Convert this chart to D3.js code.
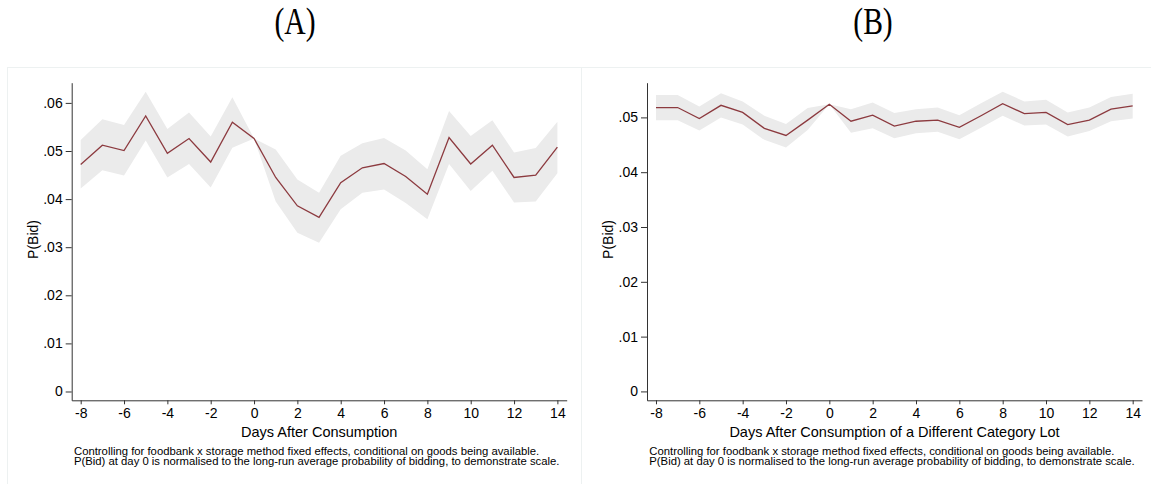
<!DOCTYPE html>
<html>
<head>
<meta charset="utf-8">
<script src="https://cdn.jsdelivr.net/npm/d3@7/dist/d3.min.js"></script>
<style>
  html, body { margin: 0; padding: 0; background: #fff; }
  svg { display: block; }
  .tick text { font-family: "Liberation Sans", Arial, sans-serif; fill: #000; }
</style>
</head>
<body>
<svg id="chart" width="1151" height="484"></svg>
<script>
// Event-study estimates of P(Bid) by day relative to consumption
const days = [-8, -7, -6, -5, -4, -3, -2, -1, 0, 1, 2, 3, 4, 5, 6, 7, 8, 9, 10, 11, 12, 13, 14];

// Panel A: same category
const estA = [0.0472, 0.0512, 0.0501, 0.0573, 0.0495, 0.0526, 0.0477, 0.0560, 0.0526, 0.0445, 0.0386, 0.0362, 0.0434, 0.0465, 0.0474, 0.0447, 0.0410, 0.0528, 0.0473, 0.0512, 0.0445, 0.0450, 0.0508];
const hiA  = [0.0523, 0.0566, 0.0554, 0.0623, 0.0546, 0.0580, 0.0530, 0.0612, 0.0526, 0.0503, 0.0441, 0.0413, 0.0490, 0.0516, 0.0527, 0.0501, 0.0462, 0.0583, 0.0531, 0.0564, 0.0497, 0.0506, 0.0561];
const loA  = [0.0422, 0.0460, 0.0449, 0.0522, 0.0445, 0.0473, 0.0424, 0.0507, 0.0526, 0.0395, 0.0330, 0.0309, 0.0379, 0.0413, 0.0420, 0.0392, 0.0358, 0.0473, 0.0417, 0.0459, 0.0393, 0.0395, 0.0454];

// Panel B: different category lot
const estB = [0.0518, 0.0518, 0.0498, 0.0522, 0.0509, 0.0480, 0.0467, 0.0495, 0.0524, 0.0493, 0.0504, 0.0484, 0.0493, 0.0495, 0.0482, 0.0503, 0.0525, 0.0507, 0.0509, 0.0487, 0.0495, 0.0515, 0.0521];
const hiB  = [0.0541, 0.0541, 0.0520, 0.0544, 0.0529, 0.0503, 0.0488, 0.0517, 0.0524, 0.0515, 0.0527, 0.0508, 0.0515, 0.0518, 0.0504, 0.0526, 0.0547, 0.0529, 0.0532, 0.0509, 0.0518, 0.0537, 0.0543];
const loB  = [0.0495, 0.0495, 0.0476, 0.0500, 0.0487, 0.0459, 0.0445, 0.0477, 0.0524, 0.0472, 0.0480, 0.0462, 0.0471, 0.0474, 0.0460, 0.0481, 0.0503, 0.0485, 0.0487, 0.0465, 0.0475, 0.0493, 0.0498];

const xTicks  = [-8, -6, -4, -2, 0, 2, 4, 6, 8, 10, 12, 14];
const yTicksA = [0, 0.01, 0.02, 0.03, 0.04, 0.05, 0.06];
const yTicksB = [0, 0.01, 0.02, 0.03, 0.04, 0.05];

const panelTitles = ["(A)", "(B)"];
const xTitles = ["Days After Consumption", "Days After Consumption of a Different Category Lot"];
const yTitle = "P(Bid)";
const notes = [
  "Controlling for foodbank x storage method fixed effects, conditional on goods being available.",
  "P(Bid) at day 0 is normalised to the long-run average probability of bidding, to demonstrate scale."
];

const svg = d3.select("#chart");
const sans = "'Liberation Sans', Arial, Helvetica, sans-serif";

// faint frame around the two graph regions
const frame = svg.append("g").attr("stroke", "#edf1f1").attr("stroke-width", 1).attr("fill", "none");
frame.append("line").attr("x1", 7).attr("x2", 1151).attr("y1", 67.5).attr("y2", 67.5);
frame.append("line").attr("x1", 7.5).attr("x2", 7.5).attr("y1", 67.5).attr("y2", 484);
frame.append("line").attr("x1", 581.5).attr("x2", 581.5).attr("y1", 67.5).attr("y2", 484);

const fmtY = d => d === 0 ? "0" : d3.format(".2f")(d).replace(/^0/, "");
const fmtX = d => String(d);

function drawPanel(ox, titleX, title, xTitle, est, lo, hi, yTicks, yDomain) {
  const g = svg.append("g").attr("transform", `translate(${ox},0)`);
  const left = 71.7, right = 566.7, top = 82.7, bottom = 400.3;

  const x = d3.scaleLinear().domain([-8.415, 14.43]).range([left, right]);
  const y = d3.scaleLinear().domain(yDomain).range([bottom, top]);

  // confidence band
  const area = d3.area()
    .x((d, i) => x(days[i]))
    .y0((d, i) => y(lo[i]))
    .y1((d, i) => y(hi[i]));
  g.append("path").datum(est).attr("d", area).attr("fill", "#ebebeb");

  // point estimates
  const line = d3.line().x((d, i) => x(days[i])).y(d => y(d));
  g.append("path").datum(est).attr("d", line)
    .attr("fill", "none").attr("stroke", "#8c3a3f").attr("stroke-width", 1.3);

  // axes
  const xAxis = g.append("g").attr("transform", `translate(0,${bottom})`)
    .call(d3.axisBottom(x).tickValues(xTicks).tickFormat(fmtX).tickSize(4).tickSizeOuter(0).tickPadding(4));
  xAxis.selectAll("text").attr("font-size", 14).attr("font-family", sans);
  const yAxis = g.append("g").attr("transform", `translate(${left},0)`)
    .call(d3.axisLeft(y).tickValues(yTicks).tickFormat(fmtY).tickSize(6).tickSizeOuter(0).tickPadding(3));
  yAxis.selectAll("text").attr("font-size", 14).attr("font-family", sans);
  [xAxis, yAxis].forEach(a => {
    a.select(".domain").attr("stroke", "#333");
    a.selectAll(".tick line").attr("stroke", "#333");
  });

  // titles
  g.append("text").attr("x", (left + right) / 2).attr("y", 436.5)
    .attr("text-anchor", "middle").attr("font-family", sans).attr("font-size", 14.5)
    .text(xTitle);
  g.append("text").attr("transform", `translate(38,${(top + bottom) / 2 - 2}) rotate(-90)`)
    .attr("text-anchor", "middle").attr("font-family", sans).attr("font-size", 14)
    .text(yTitle);

  notes.forEach((t, i) => {
    g.append("text").attr("x", 74).attr("y", 454.5 + i * 10.8)
      .attr("font-family", sans).attr("font-size", 11.3).text(t);
  });

  svg.append("text")
    .attr("transform", `translate(${titleX},34) scale(0.8,1)`)
    .attr("text-anchor", "middle")
    .attr("font-family", "'Liberation Serif', 'DejaVu Serif', serif")
    .attr("font-size", 37)
    .text(title);
}

drawPanel(0, 295, panelTitles[0], xTitles[0], estA, loA, hiA, yTicksA, [-0.00183, 0.0642]);
drawPanel(575.3, 873, panelTitles[1], xTitles[1], estB, loB, hiB, yTicksB, [-0.00162, 0.05633]);
</script>
</body>
</html>
